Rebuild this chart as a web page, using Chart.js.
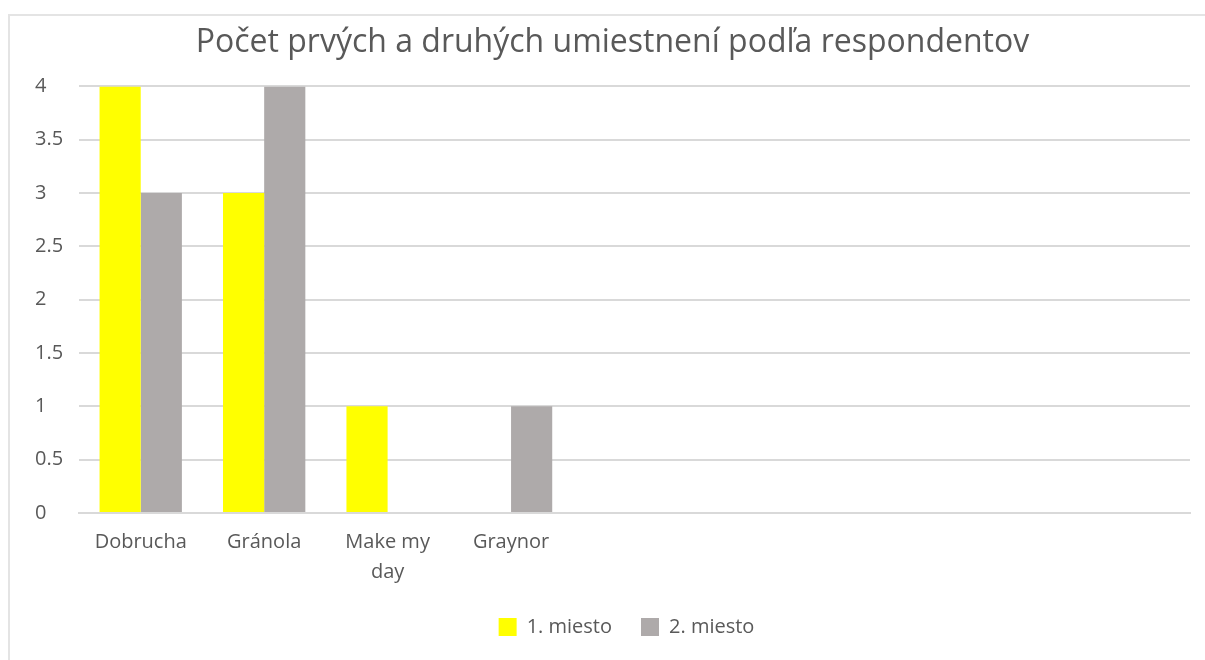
<!DOCTYPE html>
<html>
<head>
<meta charset="utf-8">
<script src="https://cdn.jsdelivr.net/npm/chart.js@4.4.1/dist/chart.umd.min.js"></script>
<style>
  body { margin: 0; background: #ffffff; }
  #wrap { position: relative; width: 1205px; height: 660px; overflow: hidden; }
  #frame { position: absolute; left: 8px; top: 14px; width: 1300px; height: 700px;
           border-top: 2px solid #e4e4e4; border-left: 2px solid #e4e4e4; }
  #myChart { position: absolute; left: 0; top: 0; }
</style>
</head>
<body>
<div id="wrap">
  <div id="frame"></div>
  <canvas id="myChart" width="1205" height="660"></canvas>
</div>
<script>
// categories (the empty ones keep the extra space on the right, as in the original sheet)
var categories = ['Dobrucha', 'Gránola', ['Make my', 'day'], 'Graynor', '', '', '', '', ''];
var series_names = ['1. miesto', '2. miesto'];
var first_place = [4, 3, 1, 0, null, null, null, null, null];
var second_place = [3, 4, 0, 1, null, null, null, null, null];
var y_ticks = [0, 0.5, 1, 1.5, 2, 2.5, 3, 3.5, 4];
var y_tick_labels = ['0', '0.5', '1', '1.5', '2', '2.5', '3', '3.5', '4'];
var chart_title = 'Počet prvých a druhých umiestnení podľa respondentov';

var text_color = '#595959';
var grid_color = '#d9d9d9';
var font_name = "'Open Sans', 'Noto Sans', sans-serif";

let chart = document.getElementById('myChart');

// the legend in the original sits a bit right of the plot centre
const legendShift = {
  id: 'legendShift',
  afterLayout: function (c) {
    c.legend.left += 14;
    c.legend.right += 14;
  }
};

const config = {
  type: 'bar',
  data: {
    labels: categories,
    datasets: [{
      label: series_names[0],
      data: first_place,
      backgroundColor: '#ffff00',
      categoryPercentage: 0.667,
      barPercentage: 1.0
    }, {
      label: series_names[1],
      data: second_place,
      backgroundColor: '#aeaaaa',
      categoryPercentage: 0.667,
      barPercentage: 1.0
    }]
  },
  options: {
    responsive: false,
    animation: false,
    devicePixelRatio: 1,
    layout: {
      padding: { left: 35, right: 15, top: 0, bottom: 13 }
    },
    plugins: {
      title: {
        display: true,
        text: chart_title,
        color: text_color,
        font: { family: font_name, size: 32, weight: 'normal' },
        padding: { top: 24, bottom: 24 }
      },
      legend: {
        position: 'bottom',
        labels: {
          color: text_color,
          boxWidth: 18,
          boxHeight: 18,
          padding: 29,
          font: { family: font_name, size: 20 }
        }
      },
      tooltip: { enabled: false }
    },
    scales: {
      x: {
        afterFit: function (axis) {
          axis.height = 75;
        },
        grid: { display: false, drawTicks: false },
        border: { display: true, color: grid_color, width: 2 },
        ticks: {
          color: text_color,
          padding: 14,
          maxRotation: 0,
          autoSkip: false,
          font: { family: font_name, size: 20, lineHeight: 1.5 }
        }
      },
      y: {
        min: 0,
        max: 4,
        afterBuildTicks: function (axis) {
          axis.ticks = y_ticks.map(function (v) { return { value: v }; });
        },
        afterFit: function (axis) {
          axis.width = 44;
        },
        grid: { color: grid_color, lineWidth: 2, drawTicks: false },
        border: { display: false },
        ticks: {
          color: text_color,
          crossAlign: 'far',
          padding: 0,
          font: { family: font_name, size: 20 },
          callback: function (value, index) {
            return y_tick_labels[index];
          }
        }
      }
    }
  },
  plugins: [legendShift]
};

var myChart = new Chart(chart, config);
</script>
</body>
</html>
